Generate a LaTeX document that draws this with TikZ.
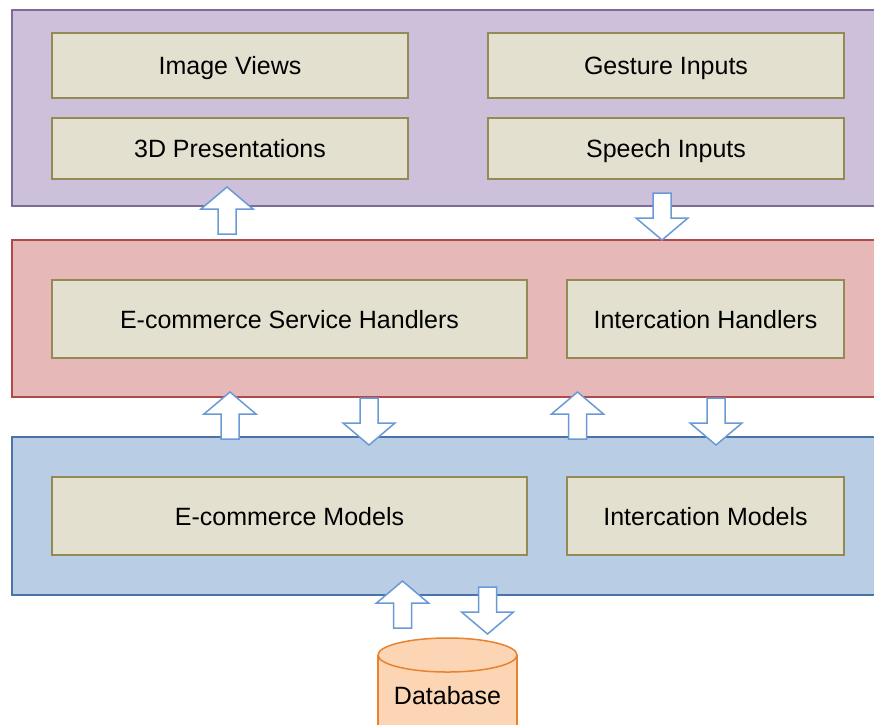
\documentclass[tikz,border=0pt]{standalone}
\usepackage{fontspec}
\setmainfont{Liberation Sans}
\definecolor{viewfill}{HTML}{CCC0DA}
\definecolor{viewline}{HTML}{7D6B99}
\definecolor{ctrlfill}{HTML}{E6B9B8}
\definecolor{ctrlline}{HTML}{B04A48}
\definecolor{modelfill}{HTML}{B9CDE5}
\definecolor{modelline}{HTML}{4A74A8}
\definecolor{boxfill}{HTML}{E4E0D0}
\definecolor{boxline}{HTML}{948A54}
\definecolor{arrowline}{HTML}{6A9AD6}
\definecolor{dbfill}{HTML}{FCD5B4}
\definecolor{dbline}{HTML}{E9822F}
\begin{document}
\begin{tikzpicture}[x=1pt,y=-1pt,
    layer/.style={line width=2pt},
    unit/.style={draw=boxline,fill=boxfill,line width=2pt,inner sep=0pt,text height=20pt,text depth=2pt,font=\fontsize{25}{30}\selectfont},
    blockarrow/.style={draw=arrowline,fill=white,line width=1.5pt,line join=miter},
    dbshape/.style={draw=dbline,fill=dbfill,line width=1.5pt}]
    \useasboundingbox (0,0) rectangle (874,724);
    % layers
    \draw[layer,draw=viewline,fill=viewfill] (12,10) rectangle (890,206);
    \draw[layer,draw=ctrlline,fill=ctrlfill] (12,240) rectangle (890,397);
    \draw[layer,draw=modelline,fill=modelfill] (12,437) rectangle (890,595);
    % units
    \foreach \cx/\cy/\w/\h/\name/\txt in {230/65.5/356/65/imgviews/Image Views,
        230/148.5/356/61/presentations/3D Presentations,
        666/65.5/356/65/gestures/Gesture Inputs,
        666/148.5/356/61/speech/Speech Inputs,
        289.5/319/475/78/servicehandlers/E-commerce Service Handlers,
        705.5/319/277/78/interhandlers/Intercation Handlers,
        289.5/516/475/78/ecmodels/E-commerce Models,
        705.5/516/277/78/intermodels/Intercation Models} {
        \node[unit,minimum width=\w,minimum height=\h] (\name) at (\cx,\cy) {\txt};
    }
    % block arrows, tip at (\ax,\ay), d=1 up, d=-1 down
    \foreach \ax/\ay/\d [count=\i] in {227/187/1, 662/240/-1, 230/392/1, 369/445/-1,
        577.5/392/1, 716/445/-1, 402.5/581/1, 487.5/634/-1} {
        \coordinate (tip\i) at (\ax,\ay);
        \draw[blockarrow] (tip\i) -- ++(26,22*\d) -- ++(-17,0) -- ++(0,25*\d)
            -- ++(-18,0) -- ++(0,-25*\d) -- ++(-17,0) -- cycle;
    }
    % database
    \draw[dbshape] (378,655) -- (378,760) -- (517,760) -- (517,655);
    \draw[dbshape] (447.5,655) ellipse [x radius=69.5,y radius=17];
    \node[font=\fontsize{25}{30}\selectfont,text height=20pt,text depth=2pt] (db) at (447.5,695) {Database};
\end{tikzpicture}
\end{document}
